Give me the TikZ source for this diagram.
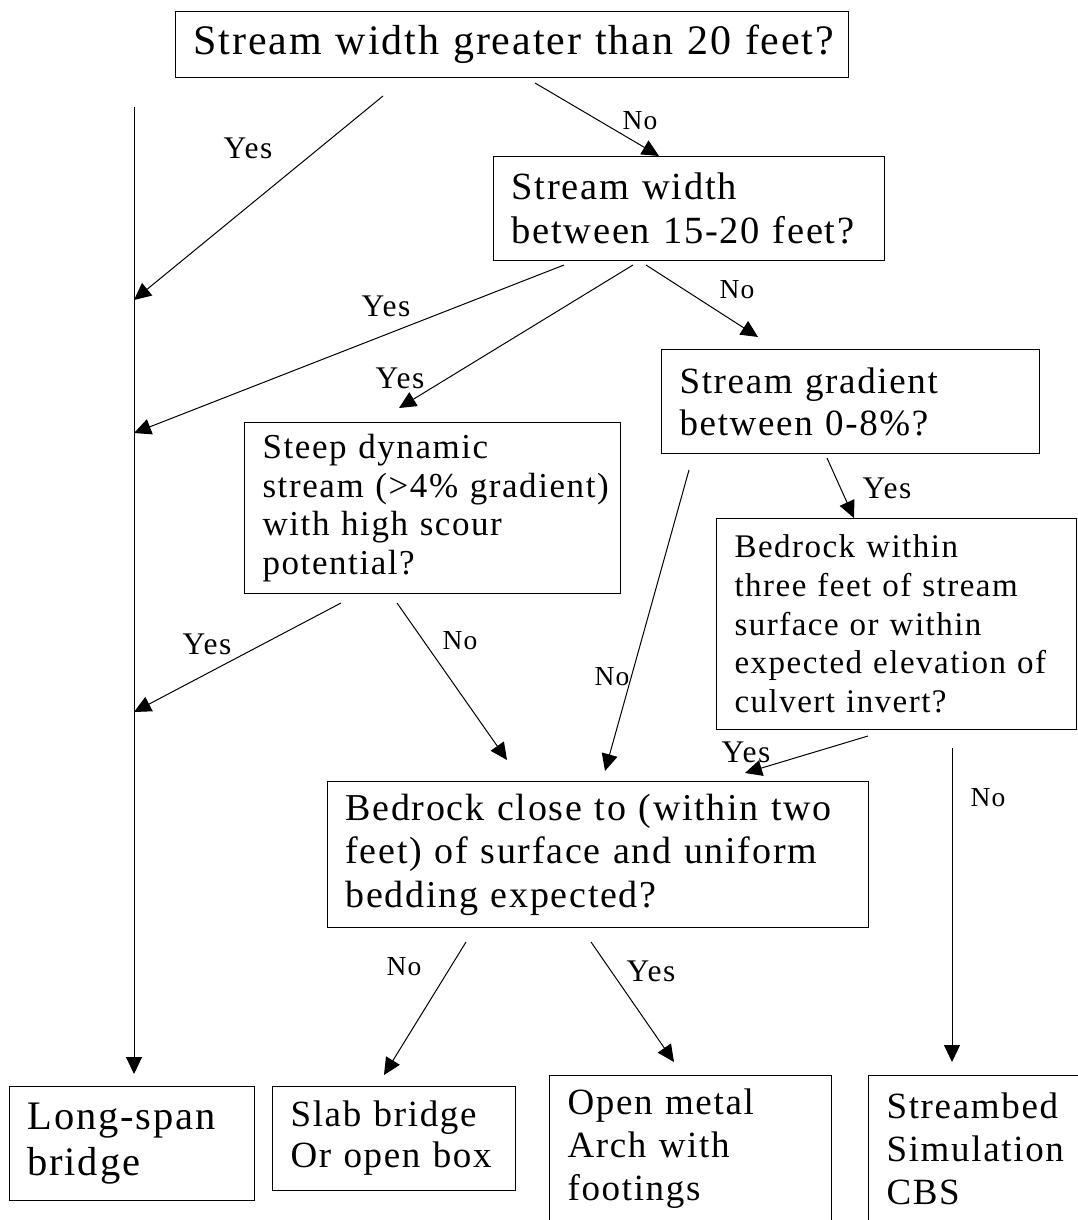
\documentclass[tikz,border=0pt]{standalone}
\usepackage{fontspec}
\setmainfont{Liberation Serif}[LetterSpace=4.5]
\usetikzlibrary{arrows.meta}
\tikzset{
  box/.style={draw, line width=1.1pt, anchor=north west, inner xsep=0pt, inner ysep=0pt, align=left},
  conn/.style={line width=1pt, -{Triangle[length=17pt,width=16pt]}},
  plain/.style={line width=1pt},
  yeslbl/.style={inner sep=0pt, font=\fontsize{31.5pt}{36pt}\selectfont},
  nolbl/.style={inner sep=0pt, font=\fontsize{27.5pt}{32pt}\selectfont},
}
\begin{document}
\begin{tikzpicture}[x=1pt,y=-1pt]
\useasboundingbox (0,0) rectangle (1078,1220);
\fill[white] (0,0) rectangle (1078,1220);
\clip (0,0) rectangle (1078,1220);

% decision boxes
\node[box, minimum width=673pt, minimum height=66pt, text width=637pt,
      font=\fontsize{42pt}{48pt}\selectfont] (q1) at (175,11)
  {\mbox{Stream width greater than 20 feet?}};
\node[box, minimum width=391pt, minimum height=104pt, text width=355pt,
      font=\fontsize{38.5pt}{44pt}\selectfont] (q2) at (493,156)
  {\mbox{Stream width}\\\mbox{between 15-20 feet?}};
\node[box, minimum width=378pt, minimum height=104pt, text width=342pt,
      font=\fontsize{37pt}{42pt}\selectfont] (q3) at (661,349)
  {\mbox{Stream gradient}\\\mbox{between 0-8\%?}};
\node[box, minimum width=376pt, minimum height=171pt, text width=340pt,
      font=\fontsize{35pt}{38.5pt}\selectfont] (q4) at (244,422)
  {\mbox{Steep dynamic}\\\mbox{stream (>4\% gradient)}\\\mbox{with high scour}\\\mbox{potential?}};
\node[box, minimum width=360pt, minimum height=211pt, text width=324pt,
      font=\fontsize{33pt}{38.7pt}\selectfont] (q5) at (716,518)
  {\mbox{Bedrock within}\\\mbox{three feet of stream}\\\mbox{surface or within}\\\mbox{expected elevation of}\\\mbox{culvert invert?}};
\node[box, minimum width=541pt, minimum height=146pt, text width=505pt,
      font=\fontsize{38pt}{43.5pt}\selectfont] (q6) at (327,781)
  {\mbox{Bedrock close to (within two}\\\mbox{feet) of surface and uniform}\\\mbox{bedding expected?}};

% outcome boxes
\node[box, minimum width=245pt, minimum height=114pt, text width=209pt,
      font=\fontsize{40.5pt}{46pt}\selectfont] (r1) at (9,1086)
  {\mbox{Long-span}\\\mbox{bridge}};
\node[box, minimum width=243pt, minimum height=104pt, text width=207pt,
      font=\fontsize{37pt}{41pt}\selectfont] (r2) at (272,1086)
  {\mbox{Slab bridge}\\\mbox{Or open box}};
\node[box, minimum width=282pt, minimum height=146pt, text width=246pt,
      font=\fontsize{37pt}{43pt}\selectfont] (r3) at (549,1075)
  {\mbox{Open metal}\\\mbox{Arch with}\\\mbox{footings}};
\node[box, minimum width=232pt, minimum height=146pt, text width=196pt,
      font=\fontsize{37pt}{43pt}\selectfont] (r4) at (868,1075)
  {\mbox{Streambed}\\\mbox{Simulation}\\\mbox{CBS}};

% connector end points
\coordinate (vtop) at (134,107);
\coordinate (vtip) at (134,1074);
\coordinate (j1) at (134,300);
\coordinate (j2) at (134,433);
\coordinate (j3) at (134,712);
\coordinate (s1) at (383,96);
\coordinate (s2) at (535,83);
\coordinate (t2) at (659,156);
\coordinate (s3) at (564,265);
\coordinate (s4) at (633,265);
\coordinate (t4) at (399,408);
\coordinate (s5) at (646,265);
\coordinate (t5) at (758,337);
\coordinate (s6) at (689,470);
\coordinate (t6) at (605,771);
\coordinate (s7) at (827,458);
\coordinate (t7) at (854,518);
\coordinate (s8) at (341,603);
\coordinate (s9) at (397,603);
\coordinate (t9) at (507,760);
\coordinate (s10) at (868,736);
\coordinate (t10) at (745,773);
\coordinate (s11) at (952,748);
\coordinate (t11) at (952,1062);
\coordinate (s12) at (466,942);
\coordinate (t12) at (384,1075);
\coordinate (s13) at (591,942);
\coordinate (t13) at (674,1062);

% connectors
\draw[conn] (vtop) -- (vtip);
\draw[conn] (s1) -- (j1);
\draw[conn] (s2) -- (t2);
\draw[conn] (s3) -- (j2);
\draw[conn] (s4) -- (t4);
\draw[conn] (s5) -- (t5);
\draw[conn] (s6) -- (t6);
\draw[conn] (s7) -- (t7);
\draw[conn] (s8) -- (j3);
\draw[conn] (s9) -- (t9);
\draw[conn] (s10) -- (t10);
\draw[conn] (s11) -- (t11);
\draw[conn] (s12) -- (t12);
\draw[conn] (s13) -- (t13);

% labels
\node[yeslbl] (l1) at (248,148) {Yes};
\node[nolbl] (l2) at (640,121) {No};
\node[yeslbl] (l3) at (386,306) {Yes};
\node[yeslbl] (l4) at (400,378) {Yes};
\node[nolbl] (l5) at (737,290) {No};
\node[yeslbl] (l6) at (887,488) {Yes};
\node[nolbl] (l7) at (612,677) {No};
\node[yeslbl] (l8) at (207,644) {Yes};
\node[nolbl] (l9) at (460,641) {No};
\node[yeslbl] (l10) at (746,752) {Yes};
\node[nolbl] (l11) at (988,798) {No};
\node[nolbl] (l12) at (404,967) {No};
\node[yeslbl] (l13) at (651,971) {Yes};
\end{tikzpicture}
\end{document}
